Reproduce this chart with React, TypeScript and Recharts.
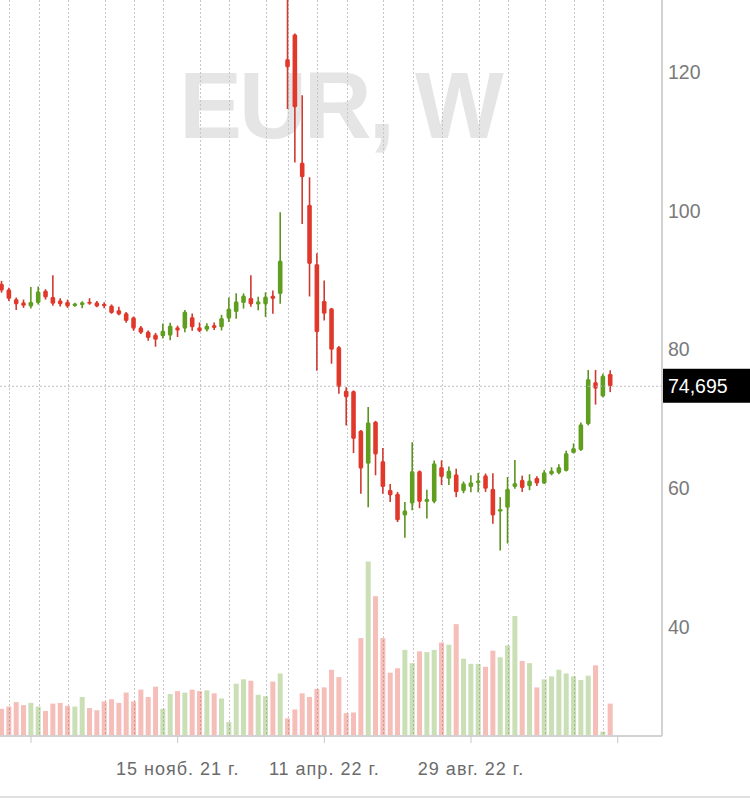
import React from 'react';
import { ComposedChart, Bar, XAxis, YAxis, ReferenceLine } from 'recharts';

// Weekly EUR candles; index 0 sits on the first x tick
const startIndex = -4;
const opens = [
  89.5, 88.7, 87.3, 86.8, 86.2, 86.7, 88.5, 87.6, 87.1, 86.9,
  86.25, 86.4, 86.9, 86.8, 86.6, 86.35, 85.7, 85.25, 84.65, 83.2,
  82.6, 82.15, 81.9, 82.0, 83.2, 83.0, 84.7, 83.2, 82.85, 83.55,
  83.2, 84.45, 85.4, 86.7, 87.45, 86.5, 86.5, 87.8, 88.0, 121.9,
  125.5, 107.0, 100.9, 92.35, 87.05, 85.95, 80.35, 74.1, 74.0, 68.3,
  63.5, 69.6, 63.9, 59.75, 59.2, 56.05, 57.75, 62.45, 58.0, 58.0,
  63.05, 61.35, 62.0, 59.55, 60.15, 60.7, 61.85, 59.9, 56.6, 57.15,
  60.15, 61.2, 60.25, 61.5, 60.65, 62.0, 62.15, 62.45, 65.05, 65.5,
  69.2, 75.3, 73.2, 76.5,
];
const highs = [
  89.9, 88.9, 87.5, 87.2, 89.0, 89.1, 88.7, 90.7, 87.4, 87.2,
  86.75, 86.95, 87.4, 87.0, 86.8, 86.5, 86.15, 85.4, 84.75, 83.4,
  82.75, 82.4, 83.75, 83.85, 83.45, 85.7, 85.2, 83.9, 83.8, 83.9,
  85.0, 87.5, 88.1, 88.1, 90.7, 87.6, 88.25, 88.5, 99.8, 132.0,
  125.6, 116.7, 104.85, 93.9, 89.95, 86.0, 80.5, 74.55, 74.1, 68.4,
  71.7, 69.7, 65.8, 60.6, 59.45, 58.0, 66.6, 62.55, 59.75, 64.0,
  64.0, 63.1, 62.8, 60.95, 61.85, 62.2, 62.1, 62.15, 58.7, 61.6,
  64.05, 61.8, 62.0, 61.7, 62.6, 63.0, 63.45, 65.4, 66.45, 69.45,
  77.05, 77.05, 76.5, 77.0,
];
const lows = [
  88.2, 87.0, 85.7, 86.0, 85.9, 86.5, 87.2, 86.3, 86.2, 86.0,
  86.15, 85.95, 86.45, 86.1, 85.95, 85.15, 84.95, 83.85, 82.7, 82.25,
  81.25, 80.4, 81.6, 81.35, 81.8, 82.5, 82.7, 82.5, 82.6, 82.8,
  82.75, 83.95, 84.45, 85.9, 86.15, 85.65, 84.7, 85.15, 86.6, 114.7,
  107.0, 98.1, 87.65, 76.95, 84.2, 77.95, 73.6, 69.05, 65.05, 59.2,
  57.25, 61.85, 59.2, 58.0, 55.1, 52.85, 56.8, 57.1, 55.6, 57.8,
  60.45, 60.45, 58.7, 59.25, 59.4, 59.4, 59.45, 54.85, 51.0, 52.0,
  59.9, 59.45, 59.7, 60.3, 60.6, 61.85, 62.0, 62.4, 65.0, 65.35,
  69.05, 72.05, 73.1, 73.85,
];
const closes = [
  88.5, 87.3, 86.5, 86.3, 86.9, 88.4, 87.5, 86.6, 86.5, 86.2,
  86.65, 86.8, 86.6, 86.2, 86.25, 85.25, 85.05, 84.1, 83.0, 82.4,
  81.65, 81.4, 82.75, 83.45, 82.75, 85.5, 83.2, 82.65, 83.45, 83.1,
  84.55, 85.9, 86.95, 87.8, 86.5, 86.95, 87.65, 87.3, 92.85, 120.7,
  114.95, 104.85, 92.35, 82.5, 85.15, 79.95, 74.55, 73.1, 67.1, 62.8,
  69.5, 64.85, 60.15, 58.95, 55.35, 56.8, 62.45, 58.0, 58.45, 63.6,
  61.6, 62.55, 59.4, 60.7, 60.85, 61.1, 59.9, 56.05, 57.0, 59.9,
  60.75, 60.0, 61.1, 60.65, 62.3, 62.55, 63.05, 65.05, 65.8, 69.2,
  75.75, 74.35, 76.25, 74.695,
];
const volumes = [
  3.7, 4.0, 4.6, 4.2, 4.5, 4.0, 3.4, 4.4, 4.5, 4.1,
  4.0, 5.3, 3.8, 3.5, 4.7, 5.0, 4.5, 5.9, 4.7, 6.3,
  5.3, 6.7, 3.7, 5.7, 6.1, 5.9, 6.3, 6.1, 6.2, 5.8,
  5.1, 1.9, 7.1, 7.7, 7.5, 5.6, 5.4, 7.4, 8.5, 2.4,
  3.6, 5.8, 5.3, 6.4, 6.6, 9.0, 8.0, 3.1, 3.2, 13.3,
  23.7, 19.0, 13.3, 8.6, 9.2, 11.7, 9.9, 11.5, 11.4, 11.7,
  12.7, 12.4, 15.2, 10.5, 9.8, 9.8, 9.4, 11.6, 10.7, 12.3,
  16.3, 10.2, 9.9, 6.6, 7.7, 8.1, 9.0, 8.5, 8.1, 7.6,
  8.2, 9.6, 0.6, 4.4,
];

// Month-start weeks (dotted vertical grid) and x-axis ticks
const gridWeeks = [-3, 1, 5, 10, 14, 18, 23, 27, 32, 35, 39, 43, 48, 52, 56, 61, 65, 70, 74, 78];
const tickWeeks = [0, 20, 40, 60, 80];
const tickLabels = ['', '15 нояб. 21 г.', '11 апр. 22 г.', '29 авг. 22 г.', ''];
const priceTicks = [40, 60, 80, 100, 120];
const priceDomain = [24.23, 130.43];
const weekDomain = [-4.23, 86.04];
const lastPrice = 74.695;
const lastPriceLabel = '74,695';
const watermark = 'EUR, W';

const RED = '#e0392b';
const RED_WICK = '#cf3a30';
const GREEN = '#5f9e1f';
const GREEN_WICK = '#5a951f';
const FONT = '"Liberation Sans", Arial, sans-serif';

const data = opens.map((o, j) => ({
  i: startIndex + j,
  o,
  h: highs[j],
  l: lows[j],
  c: closes[j],
  v: volumes[j],
  up: closes[j] >= o,
  grid: gridWeeks.includes(startIndex + j),
  range: [lows[j], highs[j]],
  full: priceDomain,
}));

const Candle = (props: any) => {
  const { x, y, width, height, payload } = props;
  if (x == null || y == null || !payload) return null;
  const top = Math.min(y, y + height);
  const bottom = Math.max(y, y + height);
  const { o, h, l, c } = payload;
  const span = h - l;
  const py = (p: number) => (span === 0 ? top : top + ((h - p) / span) * (bottom - top));
  const cx = x + width / 2;
  const up = c >= o;
  const bt = py(Math.max(o, c));
  const bb = py(Math.min(o, c));
  const bh = Math.max(bb - bt, 2);
  return (
    <g>
      <line x1={cx} x2={cx} y1={top} y2={bottom} stroke={up ? GREEN_WICK : RED_WICK} strokeWidth={1.6} />
      <rect x={cx - 2.3} y={bt - (bh - (bb - bt)) / 2} width={4.6} height={bh} rx={1.6} ry={1.6} fill={up ? GREEN : RED} />
    </g>
  );
};

const GridLine = (props: any) => {
  const { x, y, width, height, payload } = props;
  if (x == null || y == null || !payload || !payload.grid) return null;
  const cx = Math.round(x + width / 2) + 0.5;
  const top = Math.min(y, y + height);
  const bottom = Math.max(y, y + height);
  return <line x1={cx} x2={cx} y1={top} y2={bottom} stroke="#c6c6c6" strokeWidth={1} strokeDasharray="2 2" />;
};

const VolumeBar = (props: any) => {
  const { x, y, width, height, payload } = props;
  if (x == null || y == null || !payload) return null;
  const t = Math.min(y, y + height);
  const hh = Math.abs(height);
  return <rect x={x} y={t} width={width} height={hh} fill={payload.up ? GREEN : RED} fillOpacity={0.33} />;
};

const PriceTag = (props: any) => {
  const vb = props.viewBox || {};
  const x = (vb.x ?? 0) + (vb.width ?? 0);
  const y = vb.y ?? 0;
  return (
    <g>
      <rect x={x} y={y - 17.5} width={88} height={34} fill="#000" />
      <text x={x + 6} y={y + 7} fill="#fff" fontSize={19.5} fontFamily={FONT}>
        {lastPriceLabel}
      </text>
    </g>
  );
};

export default function App() {
  return (
    <div style={{ position: 'absolute', left: 0, top: 0, width: 750, height: 798, background: '#fff' }}>
      <svg width={750} height={798} style={{ position: 'absolute', left: 0, top: 0 }}>
        <text
          x={340}
          y={138}
          textAnchor="middle"
          fontSize={94}
          fontWeight="bold"
          letterSpacing={-3}
          fontFamily={FONT}
          fill="#e5e5e5"
        >
          {watermark}
        </text>
      </svg>
      <div style={{ position: 'absolute', left: 0, top: 0 }}>
        <ComposedChart width={750} height={798} data={data} margin={{ top: 0, right: 0, bottom: 0, left: 0 }}>
          <XAxis
            xAxisId="p"
            type="number"
            dataKey="i"
            domain={weekDomain}
            allowDataOverflow
            ticks={tickWeeks}
            interval={0}
            height={62}
            tickSize={7}
            tickMargin={19}
            tickFormatter={(v: number) => tickLabels[tickWeeks.indexOf(v)] ?? ''}
            axisLine={{ stroke: '#d2d2d2', strokeWidth: 2 }}
            tickLine={{ stroke: '#c8c8c8' }}
            tick={{ fill: '#6b6b6b', fontSize: 18, letterSpacing: 1, fontFamily: FONT }}
          />
          <XAxis xAxisId="xv" type="number" dataKey="i" domain={weekDomain} allowDataOverflow hide height={0} />
          <XAxis xAxisId="xw" type="number" dataKey="i" domain={weekDomain} allowDataOverflow hide height={0} />
          <YAxis
            yAxisId="p"
            orientation="right"
            width={88}
            domain={priceDomain}
            allowDataOverflow
            ticks={priceTicks}
            interval={0}
            tickLine={false}
            tickSize={0}
            tickMargin={6}
            axisLine={{ stroke: '#d2d2d2', strokeWidth: 2 }}
            tick={{ fill: '#7a7a7a', fontSize: 19.5, fontFamily: FONT, textAnchor: 'start' }}
          />
          <YAxis yAxisId="v" hide domain={[0, 100]} width={0} />
          <Bar
            xAxisId="xw"
            yAxisId="p"
            dataKey="full"
            barSize={2}
            shape={<GridLine />}
            isAnimationActive={false}
          />
          <Bar
            xAxisId="xv"
            yAxisId="v"
            dataKey="v"
            barSize={5}
            shape={<VolumeBar />}
            isAnimationActive={false}
          />
          <ReferenceLine
            xAxisId="p"
            yAxisId="p"
            y={lastPrice}
            stroke="#bdbdbd"
            strokeDasharray="2 2"
            strokeWidth={1}
            label={(p: any) => <PriceTag {...p} />}
          />
          <Bar
            xAxisId="p"
            yAxisId="p"
            dataKey="range"
            barSize={5}
            shape={<Candle />}
            isAnimationActive={false}
          />
        </ComposedChart>
      </div>
      <div style={{ position: 'absolute', left: 0, top: 796, width: 750, height: 2, background: '#e0e0e0' }} />
    </div>
  );
}
